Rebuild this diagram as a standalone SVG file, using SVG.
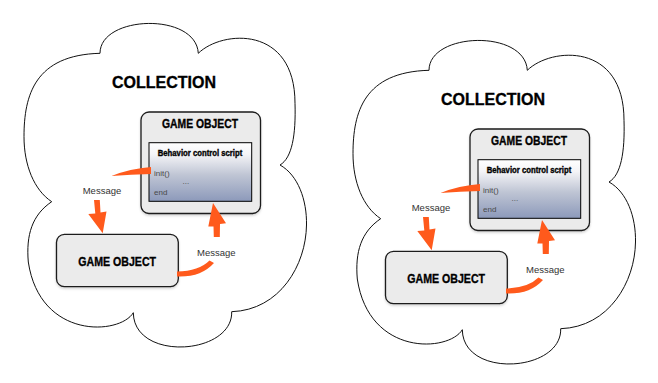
<svg xmlns="http://www.w3.org/2000/svg" width="658" height="383" viewBox="0 0 658 383">
  <style>
    .cloud { fill: #ffffff; stroke: #111111; stroke-width: 1; }
    .gobox { fill: #ebebeb; stroke: #1a1a1a; stroke-width: 1.3; filter: url(#shadow); }
    .script { fill: url(#scriptGrad); stroke: #000000; stroke-width: 1; }
    .title { font-family: "Liberation Sans", Arial, sans-serif; font-weight: bold; fill: #000000; stroke: #000000; stroke-width: 0.35; text-anchor: middle; }
    .code { font-family: "Liberation Sans", Arial, sans-serif; font-size: 8px; fill: #4a4a4a; }
    .msg { font-family: "Liberation Sans", Arial, sans-serif; font-size: 9.5px; fill: #333333; }
    .flow { fill: #ff5a1c; stroke: none; }
  </style>
  <defs>
    <linearGradient id="scriptGrad" x1="0" y1="0" x2="0" y2="1">
      <stop offset="0" stop-color="#ffffff"/>
      <stop offset="0.2" stop-color="#f4f4f7"/>
      <stop offset="0.55" stop-color="#bfc5d4"/>
      <stop offset="1" stop-color="#8c99ba"/>
    </linearGradient>
    <filter id="shadow" x="-10%" y="-10%" width="120%" height="125%">
      <feDropShadow dx="0" dy="1.5" stdDeviation="1" flood-color="#000000" flood-opacity="0.18"/>
    </filter>
    <path id="cloudShape" d="M51.7,201.7 C34,190 24,165 24,136.7 C24,95 35,55 100,53.3 C100,15 196,12 198.3,53.3 C222,30 295,25 295,103.3 C296,135 292,158 280,165 C298,175 307,200 306.5,225 C306,265 280,310 231.7,311.7 C233,355 134,362 133.3,312.7 C120,335 40,340 28.3,262 C26,235 32,215 51.7,201.7 Z"/>
  </defs>

  <!-- LEFT DIAGRAM -->
  <g id="left-diagram">
    <g id="left-collection">
      <use href="#cloudShape" class="cloud"/>
      <text class="title" x="164" y="88.3" font-size="17" textLength="104" lengthAdjust="spacingAndGlyphs">COLLECTION</text>
    </g>
    <g id="left-gameobject-script">
      <rect class="gobox" x="141" y="112" width="119.5" height="101.5" rx="8" ry="8"/>
      <text class="title" x="200" y="128.3" font-size="13" textLength="76" lengthAdjust="spacingAndGlyphs">GAME OBJECT</text>
      <rect class="script" x="149" y="142.7" width="102.7" height="58.6"/>
      <text class="title" x="200" y="156" font-size="8.5" stroke-width="0.15" textLength="84.5" lengthAdjust="spacingAndGlyphs">Behavior control script</text>
      <text class="code" x="154" y="175.5">init()</text>
      <text class="code" x="182.5" y="184" font-size="6">...</text>
      <text class="code" x="154" y="195">end</text>
    </g>
    <g id="left-gameobject">
      <rect class="gobox" x="56.5" y="234.3" width="121.8" height="52.4" rx="8" ry="8"/>
      <text class="title" x="117.2" y="265.7" font-size="13" textLength="77.7" lengthAdjust="spacingAndGlyphs">GAME OBJECT</text>
    </g>
    <g id="left-connectors">
      <path class="flow" d="M151,167 Q130,168.5 111.5,176 Q131,174.5 151,174 Z"/>
      <polygon class="flow" points="94,200 99.8,200 100.5,212.5 106.5,211.5 102.7,233.3 88.3,214 95.3,213.5"/>
      <path class="flow" d="M177,271.5 Q199,271 209.5,260.5 L214,263 Q201,277.5 177,276.5 Z"/>
      <polygon class="flow" points="213,203 226,223.3 220,224 219.8,237 213.8,237 213.5,226.5 208.3,226.5"/>
      <text class="msg" x="82.7" y="193.5">Message</text>
      <text class="msg" x="197" y="255.5">Message</text>
    </g>
  </g>

  <!-- RIGHT DIAGRAM -->
  <g id="right-diagram" transform="translate(329,17)">
    <g id="right-collection">
      <use href="#cloudShape" class="cloud"/>
      <text class="title" x="164" y="88.3" font-size="17" textLength="104" lengthAdjust="spacingAndGlyphs">COLLECTION</text>
    </g>
    <g id="right-gameobject-script">
      <rect class="gobox" x="141" y="112" width="119.5" height="101.5" rx="8" ry="8"/>
      <text class="title" x="200" y="128.3" font-size="13" textLength="76" lengthAdjust="spacingAndGlyphs">GAME OBJECT</text>
      <rect class="script" x="149" y="142.7" width="102.7" height="58.6"/>
      <text class="title" x="200" y="156" font-size="8.5" stroke-width="0.15" textLength="84.5" lengthAdjust="spacingAndGlyphs">Behavior control script</text>
      <text class="code" x="154" y="175.5">init()</text>
      <text class="code" x="182.5" y="184" font-size="6">...</text>
      <text class="code" x="154" y="195">end</text>
    </g>
    <g id="right-gameobject">
      <rect class="gobox" x="56.5" y="234.3" width="121.8" height="52.4" rx="8" ry="8"/>
      <text class="title" x="117.2" y="265.7" font-size="13" textLength="77.7" lengthAdjust="spacingAndGlyphs">GAME OBJECT</text>
    </g>
    <g id="right-connectors">
      <path class="flow" d="M151,167 Q130,168.5 111.5,176 Q131,174.5 151,174 Z"/>
      <polygon class="flow" points="94,200 99.8,200 100.5,212.5 106.5,211.5 102.7,233.3 88.3,214 95.3,213.5"/>
      <path class="flow" d="M177,271.5 Q199,271 209.5,260.5 L214,263 Q201,277.5 177,276.5 Z"/>
      <polygon class="flow" points="213,203 226,223.3 220,224 219.8,237 213.8,237 213.5,226.5 208.3,226.5"/>
      <text class="msg" x="82.7" y="193.5">Message</text>
      <text class="msg" x="197" y="255.5">Message</text>
    </g>
  </g>
</svg>
